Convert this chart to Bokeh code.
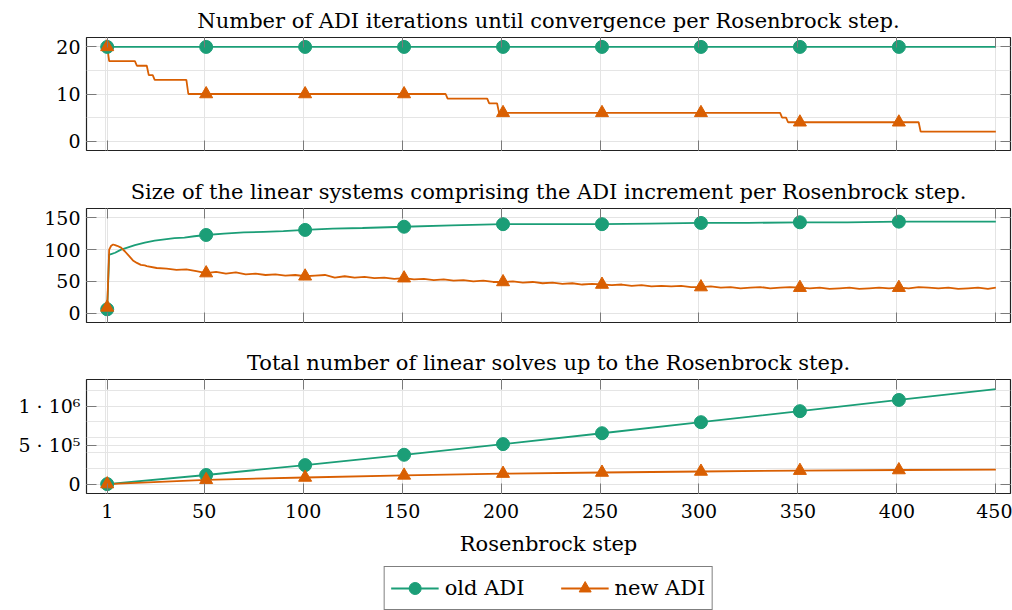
import numpy as np
from bokeh.plotting import figure
from bokeh.layouts import column
from bokeh.models import (Range1d, LinearAxis, FixedTicker, Grid, Legend, LegendItem)
from bokeh.embed import file_html
from bokeh.resources import INLINE

# ---------------- data ----------------
LAST_STEP = 450
x_ticks = [1, 50, 100, 150, 200, 250, 300, 350, 400, 450]
x_tick_labels = ["1", "50", "100", "150", "200", "250", "300", "350", "400", "450"]
mark_steps = [1, 51, 101, 151, 201, 251, 301, 351, 401]

# panel 1: ADI iterations (run-length: step where value starts, value)
old_iter_value = 20
new_iter_starts = [1, 2, 16, 22, 25, 42, 173, 194, 199, 342, 345, 412]
new_iter_values = [20, 17, 16, 14, 13, 10, 9, 8, 6, 5, 4, 2]

# panel 2: size of linear systems
old_size_steps = [1, 2, 3, 5, 8, 10, 15, 20, 25, 30, 35, 40, 45, 51, 60, 70, 80, 90,
                  101, 115, 130, 151, 175, 201, 225, 251, 275, 301, 325, 351, 375,
                  401, 425, 450]
old_size_vals = [6, 92, 93, 95, 100, 102, 107, 111, 114, 116, 118, 119, 121, 123, 125,
                 127, 128, 129, 131, 133, 134, 136, 138, 140, 140, 140, 141, 142, 142,
                 143, 143, 144, 144, 144]

new_size_steps = [1, 2, 3, 4, 5, 6, 8, 10, 12, 14, 16, 18, 20,
                  21, 26, 31, 36, 41, 46, 51, 56, 61, 66, 71, 76, 81, 86, 91, 96,
                  101, 106, 111, 116, 121, 126, 131, 136, 141, 146, 151, 156, 161, 166,
                  171, 176, 181, 186, 191, 196, 201, 206, 211, 216, 221, 226, 231, 236,
                  241, 246, 251, 256, 261, 266, 271, 276, 281, 286, 291, 296, 301, 306,
                  311, 316, 321, 326, 331, 336, 341, 346, 351, 356, 361, 366, 371, 376,
                  381, 386, 391, 396, 401, 406, 411, 416, 421, 426, 431, 436, 441, 446,
                  450]
new_size_vals = [9, 100, 106, 108, 107, 106, 103, 97, 90, 83, 79, 76, 75,
                 74, 71, 70, 68, 69, 66, 63, 65, 62, 64, 61, 62, 60, 61, 59, 60,
                 58, 59, 60, 56, 58, 56, 57, 55, 56, 54, 55, 53, 54, 52,
                 53, 51, 52, 50, 51, 49, 49, 50, 48, 49, 47, 48, 46, 47,
                 45, 46, 45, 44, 45, 43, 44, 42, 43, 42, 43, 41, 41, 42,
                 40, 41, 39, 40, 41, 39, 40, 41, 40, 39, 40, 38, 39, 40,
                 38, 39, 40, 39, 40, 39, 41, 40, 39, 40, 38, 39, 40, 38,
                 40]

# panel 3: total number of linear solves
cum_steps = [1, 51, 101, 151, 201, 251, 301, 351, 401, 450]
old_cum = [0, 117000, 244000, 377000, 514000, 654000, 796000, 938000, 1082000, 1220000]
new_cum = [0, 55000, 85000, 112000, 135000, 149000, 162000, 173000, 181000, 186000]

y1_ticks = [0, 10, 20]
y2_ticks = [0, 50, 100, 150]
y3_ticks = [0, 500000, 1000000]
y3_labels = ["0", "5 · 10⁵", "1 · 10⁶"]

titles = ["Number of ADI iterations until convergence per Rosenbrock step.",
          "Size of the linear systems comprising the ADI increment per Rosenbrock step.",
          "Total number of linear solves up to the Rosenbrock step."]
x_label = "Rosenbrock step"
series_names = ["old ADI", "new ADI"]

# --------------- expand step data ---------------
steps = np.arange(1, LAST_STEP + 1)
run_lengths = np.diff(new_iter_starts + [LAST_STEP + 1])
new_iter = np.repeat(new_iter_values, run_lengths)
old_iter = np.repeat([old_iter_value], len(steps))

def pick(xs, ys, at):
    d = dict(zip(list(xs), list(ys)))
    return [d[a] for a in at]

# --------------- style ---------------
GREEN = "#1b9e77"
ORANGE = "#d95f02"
FONT = "DejaVu Serif"
FS = "19px"        # tick labels
FS_T = "21px"      # titles, axis label, legend
TICK_COL = "#7a7a7a"
GRID_COL = "#e4e4e4"
W = 1012
BL = 86
BR = 2

x_range = Range1d(-9.46, 457.4)

def make_fig(height, y_range, yticks, ylabels, title, top, bottom, show_x):
    p = figure(width=W, height=height, x_range=x_range, y_range=y_range,
               x_axis_location=None, y_axis_location=None,
               output_backend="svg", toolbar_location=None,
               min_border_left=BL, min_border_right=BR,
               min_border_top=top, min_border_bottom=bottom)
    p.title.text = title
    p.title.text_font = FONT
    p.title.text_font_size = FS_T
    p.title.text_font_style = "normal"
    p.title.align = "center"
    p.title.text_color = "black"
    p.title.standoff = 9
    p.outline_line_color = "#222222"
    p.outline_line_width = 1.2
    p.background_fill_color = "white"
    p.border_fill_color = "white"

    xt = FixedTicker(ticks=x_ticks, minor_ticks=[])
    yt = FixedTicker(ticks=yticks, minor_ticks=[])
    p.add_layout(Grid(dimension=0, ticker=xt, grid_line_color=GRID_COL, grid_line_width=1))
    p.add_layout(Grid(dimension=1, ticker=yt, grid_line_color=GRID_COL, grid_line_width=1))

    def axis(ticker, labels=None, visible_labels=True):
        a = LinearAxis(ticker=ticker, axis_line_color=None,
                       major_tick_in=10, major_tick_out=0,
                       major_tick_line_color=TICK_COL, major_tick_line_width=1,
                       minor_tick_line_color=None)
        if visible_labels:
            a.major_label_text_font = FONT
            a.major_label_text_font_size = FS
            a.major_label_text_color = "black"
            a.major_label_standoff = 6
            if labels is not None:
                a.major_label_overrides = {t: l for t, l in zip(ticker.ticks, labels)}
        else:
            a.major_label_text_font_size = "1px"
            a.major_label_text_color = None
            a.major_label_standoff = 0
        return a

    p.add_layout(axis(yt, ylabels), "left")
    p.add_layout(axis(FixedTicker(ticks=yticks, minor_ticks=[]), visible_labels=False), "right")
    p.add_layout(axis(FixedTicker(ticks=x_ticks, minor_ticks=[]), visible_labels=False), "above")
    if show_x:
        b = axis(FixedTicker(ticks=x_ticks, minor_ticks=[]), x_tick_labels)
        b.major_label_standoff = 10
        b.axis_label = x_label
        b.axis_label_text_font = FONT
        b.axis_label_text_font_size = FS_T
        b.axis_label_text_font_style = "normal"
        b.axis_label_text_color = "black"
        b.axis_label_standoff = 11
        p.add_layout(b, "below")
    else:
        p.add_layout(axis(FixedTicker(ticks=x_ticks, minor_ticks=[]), visible_labels=False), "below")
    return p

LW = 1.8
CS = 13
TS = 13

p1 = make_fig(165, Range1d(-2, 22), y1_ticks, None, titles[0], 37, 15, False)
p1.line(steps, old_iter, line_color=GREEN, line_width=LW)
p1.line(steps, new_iter, line_color=ORANGE, line_width=LW)
p1.scatter(mark_steps, pick(steps, old_iter, mark_steps), marker="circle", size=CS,
           fill_color=GREEN, line_color=GREEN)
p1.scatter(mark_steps, pick(steps, new_iter, mark_steps), marker="triangle", size=TS,
           fill_color=ORANGE, line_color=ORANGE)

p2 = make_fig(171, Range1d(-14.8, 164.7), y2_ticks, None, titles[1], 43, 14, False)
p2.line(old_size_steps, old_size_vals, line_color=GREEN, line_width=LW)
p2.line(new_size_steps, new_size_vals, line_color=ORANGE, line_width=LW)
p2.scatter(mark_steps, pick(old_size_steps, old_size_vals, mark_steps), marker="circle",
           size=CS, fill_color=GREEN, line_color=GREEN)
p2.scatter(mark_steps, pick(new_size_steps, new_size_vals, mark_steps), marker="triangle",
           size=TS, fill_color=ORANGE, line_color=ORANGE)

p3 = make_fig(229, Range1d(-121000, 1345000), y3_ticks, y3_labels, titles[2], 43, 72, True)
p3.line(cum_steps, old_cum, line_color=GREEN, line_width=LW)
p3.line(cum_steps, new_cum, line_color=ORANGE, line_width=LW)
p3.scatter(cum_steps[:-1], old_cum[:-1], marker="circle", size=CS,
           fill_color=GREEN, line_color=GREEN)
p3.scatter(cum_steps[:-1], new_cum[:-1], marker="triangle", size=TS,
           fill_color=ORANGE, line_color=ORANGE)

# legend panel: the renderers reuse panel-3 data but lie outside this panel's view
p4 = figure(width=W, height=45, x_range=Range1d(-20, -10), y_range=Range1d(-20, -10),
            x_axis_location=None, y_axis_location=None,
            output_backend="svg", toolbar_location=None,
            min_border_left=BL, min_border_right=BR, min_border_top=0, min_border_bottom=0)
p4.outline_line_color = None
p4.xgrid.visible = False
p4.ygrid.visible = False
gl = p4.line(cum_steps, old_cum, line_color=GREEN, line_width=LW)
gm = p4.scatter(cum_steps, old_cum, marker="circle", size=CS, fill_color=GREEN, line_color=GREEN)
ol = p4.line(cum_steps, new_cum, line_color=ORANGE, line_width=LW)
om = p4.scatter(cum_steps, new_cum, marker="triangle", size=TS, fill_color=ORANGE, line_color=ORANGE)
legend = Legend(items=[LegendItem(label=series_names[0], renderers=[gl, gm]),
                       LegendItem(label=series_names[1], renderers=[ol, om])],
                orientation="horizontal", location="center",
                label_text_font=FONT, label_text_font_size=FS_T, label_text_color="black",
                glyph_width=48, glyph_height=30, label_standoff=6, spacing=36,
                padding=6, margin=0,
                border_line_color="black", border_line_width=1,
                background_fill_color="white", background_fill_alpha=1)
p4.add_layout(legend)

layout = column(p1, p2, p3, p4, spacing=0)
open("out.html", "w").write(file_html(layout, INLINE))
